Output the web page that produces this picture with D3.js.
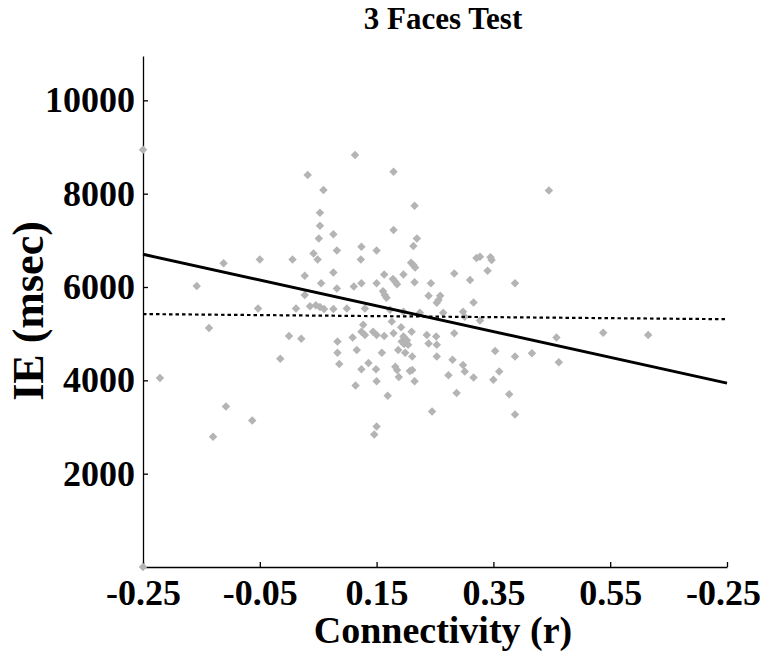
<!DOCTYPE html>
<html>
<head>
<meta charset="utf-8">
<script src="https://cdn.jsdelivr.net/npm/d3@7"></script>
<style>
  body { margin: 0; background: #fff; }
  svg text { font-family: "Liberation Serif", "Times New Roman", serif; font-weight: bold; fill: #000; }
</style>
</head>
<body>
<div id="chart"></div>
<script>
// connectivity (r) and IE (msec) for each subject
var connectivity = [
  -0.250, -0.250, -0.221, -0.158, -0.137, -0.130, -0.112, -0.108, -0.063, -0.053,
  -0.050, -0.015, 0.000, 0.006, 0.012, 0.021, 0.027, 0.027, 0.032, 0.036,
  0.042, 0.046, 0.049, 0.051, 0.053, 0.053, 0.055, 0.053, 0.059, 0.060,
  0.076, 0.076, 0.076, 0.082, 0.082, 0.083, 0.083, 0.086, 0.099, 0.109,
  0.111, 0.113, 0.114, 0.116, 0.123, 0.124, 0.124, 0.124, 0.124, 0.127,
  0.130, 0.130, 0.136, 0.144, 0.150, 0.150, 0.150, 0.149, 0.150, 0.150,
  0.146, 0.159, 0.161, 0.164, 0.167, 0.163, 0.163, 0.169, 0.173, 0.176,
  0.178, 0.182, 0.185, 0.179, 0.179, 0.179, 0.182, 0.185, 0.188, 0.187,
  0.192, 0.196, 0.196, 0.196, 0.193, 0.202, 0.197, 0.204, 0.199, 0.207,
  0.211, 0.209, 0.213, 0.216, 0.210, 0.211, 0.213, 0.215, 0.215, 0.215,
  0.219, 0.224, 0.236, 0.239, 0.239, 0.243, 0.245, 0.252, 0.253, 0.253,
  0.253, 0.256, 0.259, 0.264, 0.273, 0.280, 0.283, 0.283, 0.287, 0.298,
  0.301, 0.298, 0.301, 0.310, 0.316, 0.316, 0.321, 0.327, 0.327, 0.340,
  0.345, 0.347, 0.350, 0.353, 0.360, 0.377, 0.387, 0.387, 0.387, 0.416,
  0.445, 0.458, 0.462, 0.538, 0.615
];
var ieMsec = [
  8940, 0, 4050, 6020, 5120, 2790, 6510, 3440, 3140, 5540,
  6590, 4460, 4950, 6590, 5540, 4890, 6240, 5830, 8400, 5590,
  6720, 5610, 6590, 7040, 7590, 7310, 6080, 5570, 8080, 5530,
  7130, 6310, 5530, 6780, 5970, 4830, 4590, 4350, 5540, 4920,
  6010, 8830, 3890, 4650, 6590, 6860, 6080, 5040, 4240, 5190,
  5540, 4970, 4370, 5040, 6780, 6080, 4970, 4240, 3980, 3010,
  2840, 4590, 5910, 5830, 5770, 6270, 4950, 3670, 5510, 5260,
  6170, 6110, 6060, 8470, 7220, 5010, 4290, 4220, 4070, 4650,
  5140, 6270, 5470, 4940, 4830, 4860, 4780, 4760, 4590, 4200,
  4220, 6520, 6470, 6420, 5040, 4510, 6880, 7740, 6100, 3980,
  7040, 5450, 4970, 4790, 5810, 6080, 3330, 4940, 4760, 4510,
  5660, 5720, 5810, 5450, 4110, 4440, 6290, 5010, 3730, 5470,
  5360, 4330, 4190, 6150, 5670, 4060, 6620, 6650, 5280, 6350,
  6640, 6580, 4010, 4630, 4190, 3700, 6080, 4510, 3270, 4580,
  8070, 4920, 4390, 5020, 4970
];

// end points of the two fitted lines
var solidFit = [[-0.25, 6700], [0.75, 3940]];
var dottedFit = [[-0.25, 5420], [0.75, 5310]];

var xTicks = [-0.25, -0.05, 0.15, 0.35, 0.55, 0.75];
var xTickLabels = ["-0.25", "-0.05", "0.15", "0.35", "0.55", "-0.25"];
var yTicks = [2000, 4000, 6000, 8000, 10000];

var width = 760, height = 653;

var svg = d3.select("#chart").append("svg")
    .attr("width", width)
    .attr("height", height);

var x = d3.scaleLinear().domain([-0.25, 0.75]).range([143, 727]);
var y = d3.scaleLinear().domain([0, 10950]).range([567, 56]);

var points = connectivity.map(function (d, i) {
    return {r: d, ie: ieMsec[i]};
});

// axes, ticks pointing into the plot
var xAxis = d3.axisBottom(x)
    .tickValues(xTicks)
    .tickFormat(function (d, i) { return xTickLabels[i]; })
    .tickSizeInner(-5)
    .tickSizeOuter(0)
    .tickPadding(12);

var yAxis = d3.axisLeft(y)
    .tickValues(yTicks)
    .tickFormat(d3.format("d"))
    .tickSizeInner(-5)
    .tickSizeOuter(0)
    .tickPadding(8);

var gx = svg.append("g")
    .attr("transform", "translate(0," + y(0) + ")")
    .call(xAxis);

var gy = svg.append("g")
    .attr("transform", "translate(" + x(-0.25) + ",0)")
    .call(yAxis);

[gx, gy].forEach(function (g) {
    g.selectAll("path.domain").attr("stroke", "#000").attr("stroke-width", 1.3);
    g.selectAll(".tick line").attr("stroke", "#000").attr("stroke-width", 1.3);
    g.selectAll(".tick text")
        .style("font-family", "'Liberation Serif', 'Times New Roman', serif")
        .style("font-weight", "bold")
        .style("font-size", "36px")
        .attr("fill", "#000");
});
// keep the last x label inside the window
gx.selectAll(".tick text").filter(function (d, i) { return i === xTicks.length - 1; })
    .attr("dx", -4);

// scatter
svg.append("g").selectAll("path")
    .data(points)
    .enter().append("path")
    .attr("d", d3.symbol(d3.symbolSquare, 36))
    .attr("transform", function (d) {
        return "translate(" + x(d.r) + "," + y(d.ie) + ") rotate(45)";
    })
    .attr("fill", "#b4b4b4");

var line = d3.line()
    .x(function (d) { return x(d[0]); })
    .y(function (d) { return y(d[1]); });

svg.append("path")
    .datum(dottedFit)
    .attr("d", line)
    .attr("fill", "none")
    .attr("stroke", "#000")
    .attr("stroke-width", 2.2)
    .attr("stroke-dasharray", "3.5,3");

svg.append("path")
    .datum(solidFit)
    .attr("d", line)
    .attr("fill", "none")
    .attr("stroke", "#000")
    .attr("stroke-width", 3);

// titles
svg.append("text")
    .attr("x", 443)
    .attr("y", 29)
    .attr("text-anchor", "middle")
    .style("font-size", "31px")
    .text("3 Faces Test");

svg.append("text")
    .attr("x", 443)
    .attr("y", 643)
    .attr("text-anchor", "middle")
    .style("font-size", "38px")
    .text("Connectivity (r)");

svg.append("text")
    .attr("transform", "translate(43,311) rotate(-90)")
    .attr("text-anchor", "middle")
    .style("font-size", "44px")
    .text("IE (msec)");
</script>
</body>
</html>
